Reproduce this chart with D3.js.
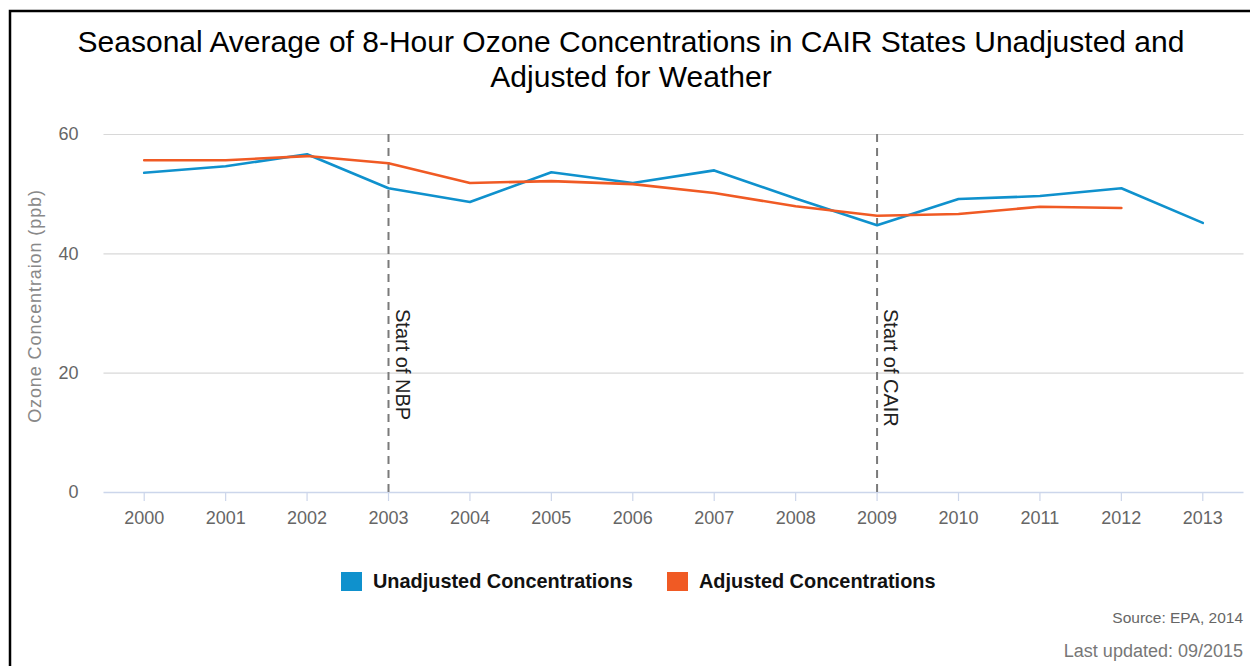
<!DOCTYPE html>
<html>
<head>
<meta charset="utf-8">
<script src="https://cdn.jsdelivr.net/npm/d3@7/dist/d3.min.js"></script>
<style>
  html, body { margin: 0; padding: 0; background: #fff; }
  svg { display: block; font-family: "Liberation Sans", Arial, sans-serif; }
</style>
</head>
<body>
<svg id="chart" width="1250" height="666"></svg>
<script>
const years = ["2000","2001","2002","2003","2004","2005","2006","2007","2008","2009","2010","2011","2012","2013"];
const unadjusted = [53.5, 54.6, 56.6, 50.9, 48.6, 53.6, 51.8, 53.9, 49.2, 44.7, 49.1, 49.6, 50.9, 45.1];
const adjusted = [55.6, 55.6, 56.3, 55.1, 51.8, 52.1, 51.6, 50.1, 47.9, 46.3, 46.6, 47.8, 47.6];
const yTicks = [0, 20, 40, 60];
const plotLines = [{ year: "2003", label: "Start of NBP" }, { year: "2009", label: "Start of CAIR" }];
const seriesNames = ["Unadjusted Concentrations", "Adjusted Concentrations"];
const colors = ["#0f91cd", "#f05a24"];

const svg = d3.select("#chart");
const pLeft = 103.5, pRight = 1243.5, pTop = 134, pBottom = 492;

// border
svg.append("path")
  .attr("d", `M10,680 L10,11 L1260,11`)
  .attr("fill", "none").attr("stroke", "#000").attr("stroke-width", 2.5);

const x = d3.scaleBand().domain(years).range([pLeft, pRight]);
const xc = d => x(d) + x.bandwidth() / 2;
const y = d3.scaleLinear().domain([0, 60]).range([pBottom, pTop]);

// title
const title = svg.append("text").attr("text-anchor", "middle").attr("fill", "#000")
  .style("font-size", "30px");
title.append("tspan").attr("x", 631).attr("y", 52)
  .text("Seasonal Average of 8-Hour Ozone Concentrations in CAIR States Unadjusted and");
title.append("tspan").attr("x", 631).attr("y", 87).text("Adjusted for Weather");

// grid
const yAxis = d3.axisLeft(y).tickValues(yTicks).tickSize(-(pRight - pLeft)).tickPadding(25);
const gy = svg.append("g").attr("transform", `translate(${pLeft},0)`).call(yAxis);
gy.select(".domain").remove();
gy.selectAll(".tick line").attr("stroke", "#d8d8d8").attr("stroke-width", 1.2)
  .attr("opacity", d => d === 0 ? 0 : 1);
gy.selectAll(".tick text").attr("fill", "#666").style("font-size", "18px")
  .attr("font-family", "Liberation Sans, Arial, sans-serif");

// x axis
const xAxis = d3.axisBottom(x).tickSize(9).tickPadding(10);
const gx = svg.append("g").attr("transform", `translate(0,${pBottom})`).call(xAxis);
gx.select(".domain").attr("stroke", "#ccd6eb").attr("stroke-width", 1.5)
  .attr("d", `M${pLeft},0.5H${pRight}`);
gx.selectAll(".tick line").attr("stroke", "#ccd6eb").attr("stroke-width", 1.2);
gx.selectAll(".tick text").attr("fill", "#666").style("font-size", "18px")
  .attr("font-family", "Liberation Sans, Arial, sans-serif");

// y-axis title
svg.append("text")
  .attr("transform", `translate(41,306) rotate(-90)`)
  .attr("text-anchor", "middle").attr("fill", "#888").style("font-size", "18px")
  .style("letter-spacing", "0.9px")
  .text("Ozone Concentraion (ppb)");

// plot lines
plotLines.forEach(p => {
  svg.append("line")
    .attr("x1", xc(p.year)).attr("x2", xc(p.year))
    .attr("y1", y(60)).attr("y2", y(0))
    .attr("stroke", "#7a7a7a").attr("stroke-width", 2).attr("stroke-dasharray", "8,6");
  svg.append("text")
    .attr("transform", `translate(${xc(p.year) + 7},${309}) rotate(90)`)
    .attr("fill", "#222").style("font-size", "20px")
    .text(p.label);
});

// lines
const line = d3.line().x((d, i) => xc(years[i])).y(d => y(d));
[unadjusted, adjusted].forEach((s, i) => {
  svg.append("path").datum(s).attr("d", line)
    .attr("fill", "none").attr("stroke", colors[i]).attr("stroke-width", 2.6)
    .attr("stroke-linejoin", "round").attr("stroke-linecap", "round");
});

// legend
const legendX = [341, 667];
seriesNames.forEach((n, i) => {
  svg.append("rect").attr("x", legendX[i]).attr("y", 572).attr("width", 21).attr("height", 19)
    .attr("fill", colors[i]);
  svg.append("text").attr("x", legendX[i] + 32).attr("y", 588)
    .attr("fill", "#111").style("font-size", "19.9px").style("font-weight", "bold")
    .text(n);
});

// credits
svg.append("text").attr("x", 1243).attr("y", 623).attr("text-anchor", "end")
  .attr("fill", "#666").style("font-size", "15.5px").text("Source: EPA, 2014");
svg.append("text").attr("x", 1243).attr("y", 657).attr("text-anchor", "end")
  .attr("fill", "#777").style("font-size", "18px").text("Last updated: 09/2015");
</script>
</body>
</html>
